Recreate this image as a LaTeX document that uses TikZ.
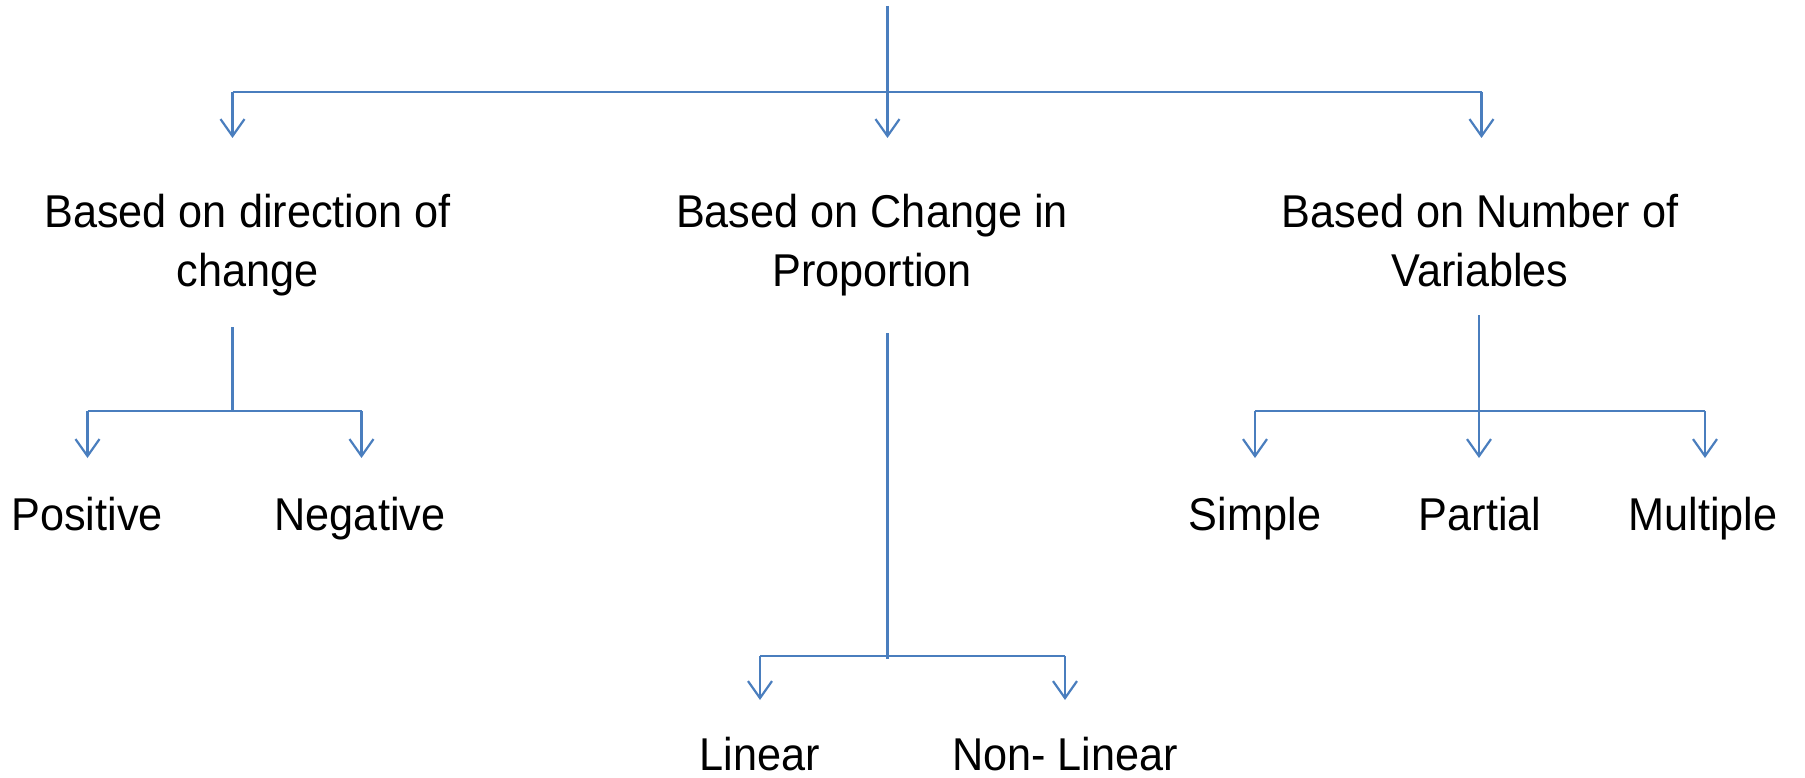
\documentclass[tikz,border=0pt]{standalone}
\usepackage{fontspec}
\setmainfont[FakeStretch=0.94]{Liberation Sans}
\usetikzlibrary{arrows.meta}
\definecolor{linkblue}{RGB}{74,126,190}
\tikzset{
  conn/.style={draw=linkblue, line width=2.2pt},
  arr/.style={conn, -{Straight Barb[length=17pt,width=24pt,line width=2.2pt]}},
  lbl/.style={font=\fontsize{46}{59}\selectfont, inner sep=0pt, anchor=base},
  head/.style={font=\fontsize{46}{59}\selectfont, inner sep=0pt, anchor=north, align=center}
}
\begin{document}
\begin{tikzpicture}[x=1pt,y=-1pt]
\useasboundingbox (0,0) rectangle (1805,778);
% headings
\node[head] (h1) at (247.5,193.5) {Based on direction of\\change};
\node[head] (h2) at (872,193.5) {Based on Change in\\Proportion};
\node[head] (h3) at (1480,193.5) {Based on Number of\\Variables};
% leaves
\node[lbl] (pos) at (87,530) {Positive};
\node[lbl] (neg) at (360,530) {Negative};
\node[lbl] (lin) at (760,770) {Linear};
\node[lbl] (nlin) at (1065,770) {Non- Linear};
\node[lbl] (sim) at (1255,530) {Simple};
\node[lbl] (par) at (1480,530) {Partial};
\node[lbl] (mul) at (1703,530) {Multiple};
% top level
\coordinate (top) at (887.5,6);
\coordinate (j0) at (887.5,92);
\coordinate (j0l) at (232.5,92);
\coordinate (j0r) at (1481.5,92);
\draw[conn] (top) -- (j0);
\draw[conn] (j0l) -- (j0r);
\draw[arr] (j0l) -- ++(0,46);
\draw[arr] (j0) -- ++(0,46);
\draw[arr] (j0r) -- ++(0,46);
% left subtree
\coordinate (s1) at (232.5,327);
\coordinate (j1) at (232.5,411);
\coordinate (j1l) at (87.5,411);
\coordinate (j1r) at (361.5,411);
\draw[conn] (s1) -- (j1);
\draw[conn] (j1l) -- (j1r);
\draw[arr] (j1l) -- ++(0,47);
\draw[arr] (j1r) -- ++(0,47);
% middle subtree
\coordinate (s2) at (887.5,333);
\coordinate (j2) at (887.5,659);
\coordinate (j2l) at (760,656);
\coordinate (j2r) at (1065,656);
\draw[conn] (s2) -- (j2);
\draw[conn] (j2l) -- (j2r);
\draw[arr] (j2l) -- ++(0,44);
\draw[arr] (j2r) -- ++(0,44);
% right subtree
\coordinate (s3) at (1479,315);
\coordinate (j3) at (1479,411);
\coordinate (j3l) at (1255,411);
\coordinate (j3r) at (1705,411);
\draw[conn] (s3) -- (j3);
\draw[conn] (j3l) -- (j3r);
\draw[arr] (j3l) -- ++(0,47);
\draw[arr] (j3) -- ++(0,47);
\draw[arr] (j3r) -- ++(0,47);
\end{tikzpicture}
\end{document}
